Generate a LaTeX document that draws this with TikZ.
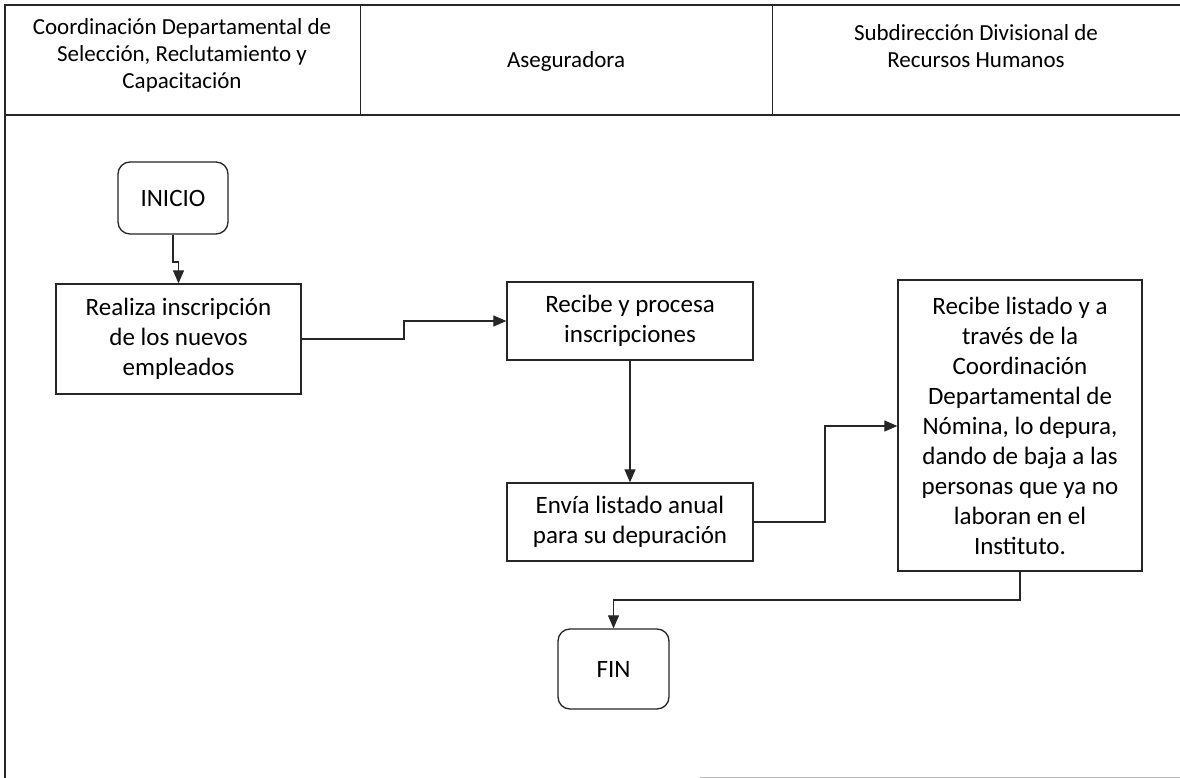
\documentclass[tikz,border=0pt]{standalone}
\usepackage{fontspec}
\setmainfont{Carlito}
\usetikzlibrary{arrows.meta}
\begin{document}
\begin{tikzpicture}[x=1pt,y=-1pt,
  line/.style={draw=black!85, line width=1.1pt},
  proc/.style={draw=black!85, line width=1.3pt, rectangle, align=center, inner sep=0pt, font=\fontsize{25}{30}\selectfont},
  term/.style={draw=black!85, line width=1.3pt, rounded corners=12pt, rectangle, align=center, inner sep=0pt, font=\fontsize{25}{30}\selectfont},
  head/.style={align=center, font=\fontsize{23}{27}\selectfont, inner sep=0pt},
  flow/.style={line, -{Triangle[length=13pt,width=11pt]}}
]
\useasboundingbox (0,0) rectangle (1180,778);
\fill[white] (0,0) rectangle (1180,778);
% header frame
\draw[line] (1180,5) -- (5,5) -- (5,778);
\draw[line] (5,115) -- (1180,115);
\draw[line, line width=0.8pt] (360,5) -- (360,115);
\draw[line, line width=0.8pt] (772,5) -- (772,115);
\draw[black!25, line width=0.8pt] (700,777) -- (1180,777);
\node[head] (h1) at (182,55) {Coordinación Departamental de\\Selección, Reclutamiento y\\Capacitación};
\node[head] (h2) at (566,61) {Aseguradora};
\node[head] (h3) at (976,46) {Subdirección Divisional de\\Recursos Humanos};
% nodes
\node[term, minimum width=110pt, minimum height=72pt] (inicio) at (173,198) {INICIO};
\node[proc, minimum width=245pt, minimum height=110pt] (realiza) at (178.5,339) {Realiza inscripción\\de los nuevos\\empleados};
\node[proc, minimum width=246pt, minimum height=78pt] (recibe) at (630,321) {Recibe y procesa\\inscripciones};
\node[proc, minimum width=246pt, minimum height=78pt] (envia) at (630,522) {Envía listado anual\\para su depuración};
\node[proc, minimum width=244pt, minimum height=291pt] (listado) at (1020,425.5) {Recibe listado y a\\través de la\\Coordinación\\Departamental de\\Nómina, lo depura,\\dando de baja a las\\personas que ya no\\laboran en el\\Instituto.};
\node[term, minimum width=111pt, minimum height=80pt] (fin) at (613.5,669) {FIN};
% connectors
\coordinate (j1) at (173,262);
\draw[flow] (inicio.south) -- (j1) -- (178.5,262) -- (realiza.north);
\coordinate (j2) at (404,339);
\draw[flow] (realiza.east) -- (j2) -- (404,321) -- (recibe.west);
\draw[flow] (recibe.south) -- (envia.north);
\coordinate (j3) at (825,522);
\draw[flow] (envia.east) -- (j3) -- (825,426) -- (listado.west |- 0,426);
\coordinate (j4) at (1020,600);
\draw[flow] (listado.south) -- (j4) -- (613.5,600) -- (fin.north);
\end{tikzpicture}
\end{document}
